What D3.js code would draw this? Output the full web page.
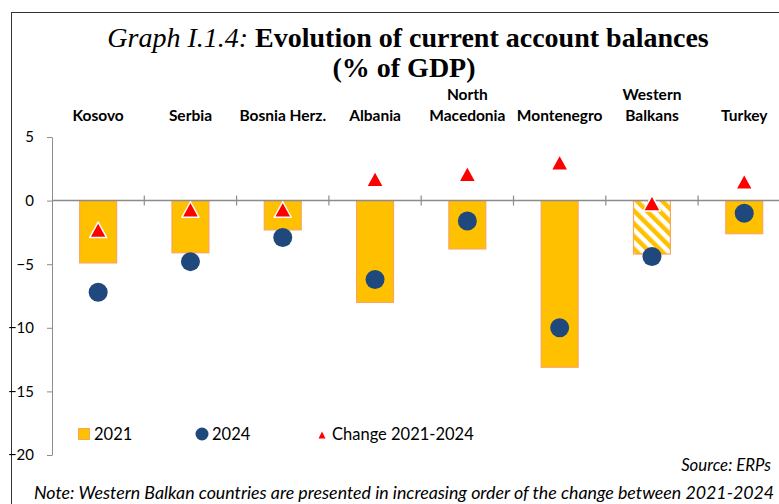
<!DOCTYPE html>
<html>
<head>
<meta charset="utf-8">
<script src="https://cdn.jsdelivr.net/npm/d3@7"></script>
<style>
  body { margin: 0; background: #fff; }
  svg { display: block; }
</style>
</head>
<body>
<div id="chart"></div>
<script>
// data
const countries = ["Kosovo", "Serbia", "Bosnia Herz.", "Albania", "North Macedonia", "Montenegro", "Western Balkans", "Turkey"]
const labelLines = [["Kosovo"], ["Serbia"], ["Bosnia Herz."], ["Albania"], ["North", "Macedonia"], ["Montenegro"], ["Western", "Balkans"], ["Turkey"]]
const values2021 = [-4.9, -4.1, -2.3, -8.0, -3.8, -13.1, -4.2, -2.6]
const values2024 = [-7.2, -4.8, -2.9, -6.2, -1.6, -10.0, -4.4, -1.0]
const change = [-2.3, -0.7, -0.7, 1.7, 2.1, 3.0, -0.2, 1.5]
const yTicks = [5, 0, -5, -10, -15, -20]
const hatched = "Western Balkans"

const width = 779, height = 504
const plot = { left: 52, top: 137, bottom: 455 }
const step = 92.3

const svg = d3.select("#chart").append("svg")
    .attr("width", width)
    .attr("height", height)

const defs = svg.append("defs")
const pat = defs.append("pattern")
    .attr("id", "hatch")
    .attr("patternUnits", "userSpaceOnUse")
    .attr("width", 9).attr("height", 9)
    .attr("patternTransform", "rotate(-45)")
pat.append("rect").attr("width", 9).attr("height", 9).attr("fill", "#fff")
pat.append("rect").attr("width", 4.5).attr("height", 9).attr("fill", "#FFC000")

// outer frame
svg.append("rect")
    .attr("x", 11.5).attr("y", 12.5)
    .attr("width", 800).attr("height", 600)
    .attr("fill", "none").attr("stroke", "#333").attr("stroke-width", 1)

// title
const title = svg.append("text")
    .attr("x", 408).attr("y", 47)
    .attr("text-anchor", "middle")
    .style("font-family", "'Liberation Serif', 'Times New Roman', serif")
    .style("font-size", "28px")
title.append("tspan").style("font-style", "italic").text("Graph I.1.4: ")
title.append("tspan").style("font-weight", "bold").text("Evolution of current account balances")
svg.append("text")
    .attr("x", 404).attr("y", 77)
    .attr("text-anchor", "middle")
    .style("font-family", "'Liberation Serif', 'Times New Roman', serif")
    .style("font-size", "28px")
    .style("font-weight", "bold")
    .text("(% of GDP)")

var x = d3.scaleBand()
    .domain(countries)
    .range([plot.left, plot.left + step * countries.length])
    .paddingInner(0.6)
    .paddingOuter(0.3)

var y = d3.scaleLinear()
    .domain([-20, 5])
    .range([plot.bottom, plot.top])

// y axis
const yAxis = svg.append("g")
    .attr("transform", "translate(" + plot.left + ",0)")
    .call(d3.axisLeft(y).tickValues(yTicks).tickSize(5).tickSizeOuter(0).tickPadding(13))
yAxis.select(".domain").attr("stroke", "#8c8c8c")
yAxis.selectAll(".tick line").attr("stroke", "#8c8c8c")
yAxis.selectAll(".tick text")
    .style("font-family", "Lato, 'Open Sans', sans-serif")
    .style("font-size", "15px")
    .attr("fill", "#000")

// bars
svg.selectAll(".bar")
    .data(countries)
    .enter().append("rect")
    .attr("class", "bar")
    .attr("x", d => x(d))
    .attr("width", x.bandwidth())
    .attr("y", (d, i) => y(Math.max(0, values2021[i])))
    .attr("height", (d, i) => Math.abs(y(values2021[i]) - y(0)))
    .attr("fill", d => d == hatched ? "url(#hatch)" : "#FFC000")
    .attr("stroke", "#F9A65A")
    .attr("stroke-width", 1.2)

// zero line with category ticks
svg.append("line")
    .attr("x1", plot.left).attr("x2", width)
    .attr("y1", y(0)).attr("y2", y(0))
    .attr("stroke", "#8c8c8c").attr("stroke-width", 1.5)
svg.selectAll(".catTick")
    .data(countries.slice(1))
    .enter().append("line")
    .attr("x1", d => x(d) - x.step() * x.paddingInner() / 2)
    .attr("x2", d => x(d) - x.step() * x.paddingInner() / 2)
    .attr("y1", y(0) - 5).attr("y2", y(0) + 5)
    .attr("stroke", "#8c8c8c").attr("stroke-width", 1.2)

// 2024 dots
svg.selectAll(".dot")
    .data(countries)
    .enter().append("circle")
    .attr("cx", d => x(d) + x.bandwidth() / 2)
    .attr("cy", (d, i) => y(values2024[i]))
    .attr("r", 9.5)
    .attr("fill", "#1F497D")

// triangle centred on its bounding box, like the spreadsheet marker
function triangle(w, h) {
    return "M0," + (-h / 2) + "L" + (w / 2) + "," + (h / 2) + "L" + (-w / 2) + "," + (h / 2) + "Z"
}

// change triangles
svg.selectAll(".tri")
    .data(countries)
    .enter().append("path")
    .attr("d", triangle(17, 15.5))
    .attr("transform", (d, i) => "translate(" + (x(d) + x.bandwidth() / 2) + "," + y(change[i]) + ")")
    .attr("fill", "#FF0000")
    .attr("stroke", "#fff")
    .attr("stroke-width", 1.5)
    .attr("stroke-linejoin", "round")

// category labels on top
const cat = svg.selectAll(".cat")
    .data(countries)
    .enter().append("text")
    .attr("x", d => x(d) + x.bandwidth() / 2)
    .attr("y", 121)
    .attr("text-anchor", "middle")
    .style("font-family", "Lato, 'Open Sans', sans-serif")
    .style("font-size", "15.5px")
    .style("font-weight", "bold")
cat.each(function (d, i) {
    const lines = labelLines[i]
    lines.forEach((t, j) => {
        d3.select(this).append("tspan")
            .attr("x", x(d) + x.bandwidth() / 2)
            .attr("dy", j == 0 ? -(lines.length - 1) * 21 : 21)
            .text(t)
    })
})

// legend
const legend = svg.append("g")
    .style("font-family", "Lato, 'Open Sans', sans-serif")
    .style("font-size", "16.5px")
legend.append("rect")
    .attr("x", 78.5).attr("y", 428.5).attr("width", 11).attr("height", 11)
    .attr("fill", "#FFC000").attr("stroke", "#F9A65A")
legend.append("text").attr("x", 94).attr("y", 440).text("2021")
legend.append("circle").attr("cx", 202).attr("cy", 434).attr("r", 6.5).attr("fill", "#1F497D")
legend.append("text").attr("x", 212).attr("y", 440).text("2024")
legend.append("path")
    .attr("d", triangle(7, 7))
    .attr("transform", "translate(322,435)")
    .attr("fill", "#FF0000")
legend.append("text").attr("x", 332).attr("y", 440).text("Change 2021-2024")

// source and note
svg.append("text")
    .attr("x", 771).attr("y", 471)
    .attr("text-anchor", "end")
    .style("font-family", "Lato, 'Open Sans', sans-serif")
    .style("font-size", "16.8px")
    .style("font-style", "italic")
    .text("Source: ERPs")
svg.append("text")
    .attr("x", 34).attr("y", 499)
    .style("font-family", "Lato, 'Open Sans', sans-serif")
    .style("font-size", "17.8px")
    .style("font-style", "italic")
    .text("Note: Western Balkan countries are presented in increasing order of the change between 2021-2024")
</script>
</body>
</html>
